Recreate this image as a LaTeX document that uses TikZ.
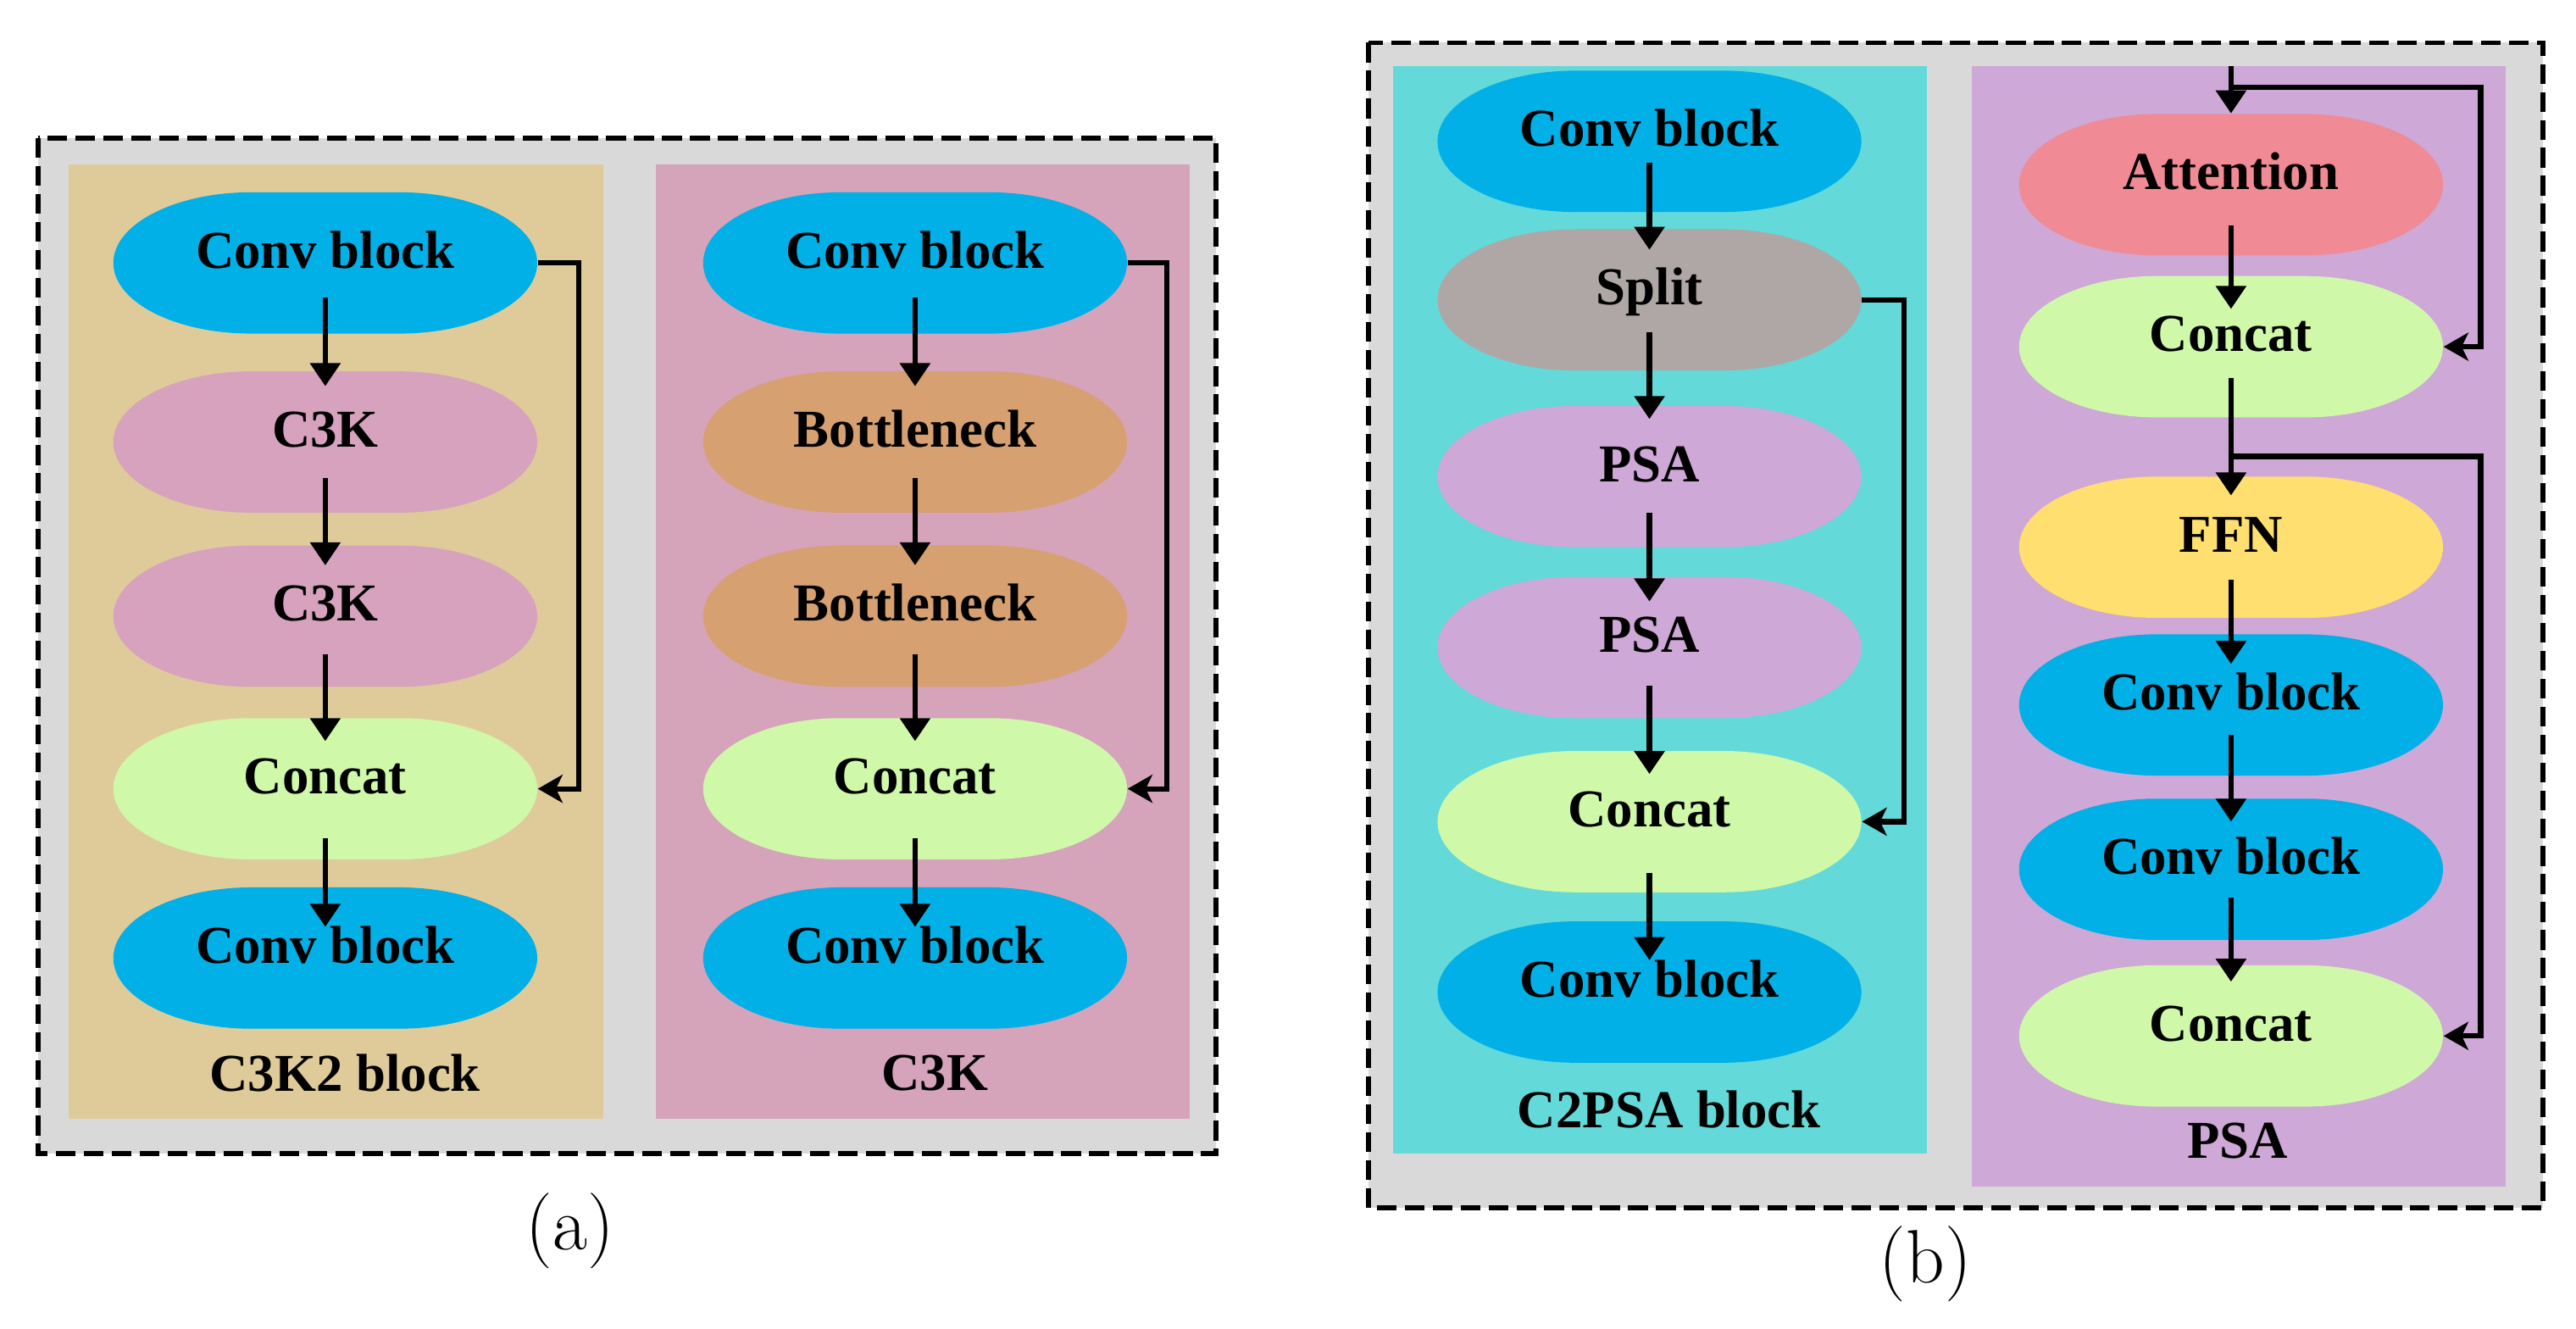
\documentclass[tikz,border=0pt]{standalone}
\usepackage{fontspec}
\newfontfamily\tnr{Liberation Serif}
\usetikzlibrary{arrows.meta,calc}
\definecolor{bggray}{HTML}{D9D9D9}
\definecolor{ctan}{HTML}{DFCB99}
\definecolor{cpinkpanel}{HTML}{D5A3BA}
\definecolor{cblue}{HTML}{00B0E6}
\definecolor{cpink}{HTML}{D6A2BD}
\definecolor{corange}{HTML}{D6A070}
\definecolor{cgreen}{HTML}{CFF9A9}
\definecolor{ccyan}{HTML}{63D9D9}
\definecolor{cgraynode}{HTML}{AFA7A5}
\definecolor{clav}{HTML}{CEA8D6}
\definecolor{cpurple}{HTML}{CEA8D6}
\definecolor{cred}{HTML}{F08A94}
\definecolor{cyellow}{HTML}{FFDF6F}
\begin{document}
\begin{tikzpicture}[x=0.5pt,y=-0.5pt,
  blk/.style={rectangle, minimum width=129pt, minimum height=43pt, inner sep=0pt,
    font=\tnr\bfseries\fontsize{16.2}{19}\selectfont, text height=11pt, text depth=8pt,
    path picture={\fill[#1] ($(path picture bounding box.center)+(-22.5pt,21.5pt)$)
      -- ++(45pt,0pt) arc[start angle=90,end angle=-90,x radius=42pt,y radius=21.5pt]
      -- ++(-45pt,0pt) arc[start angle=270,end angle=90,x radius=42pt,y radius=21.5pt] -- cycle;}},
  lbl/.style={inner sep=0pt, font=\tnr\bfseries\fontsize{16.2}{19}\selectfont},
  captxt/.style={inner sep=0pt, font=\fontsize{23}{27}\selectfont},
  arr/.style={line width=1.6pt, -{Triangle[length=7pt,width=9pt]}},
  skiparr/.style={line width=1.6pt, -{Stealth[length=7.5pt,width=8.5pt,inset=2pt]}},
  border/.style={draw=black, line width=1.5pt, dash pattern=on 6pt off 2.5pt},
]
\useasboundingbox (0,0) rectangle (1568,808.7);
% ---------- (a) ----------
\fill[bggray] (23,84) rectangle (740,702);
\fill[ctan] (42,100) rectangle (367,681);
\fill[cpinkpanel] (399,100) rectangle (724,681);
\node[blk=cblue] (a1) at (198,160) {Conv block};
\node[blk=cpink] (a2) at (198,269) {C3K};
\node[blk=cpink] (a3) at (198,375) {C3K};
\node[blk=cgreen] (a4) at (198,480) {Concat};
\node[blk=cblue] (a5) at (198,583) {Conv block};
\node[lbl] (la) at (210,653) {C3K2 block};
\node[blk=cblue] (b1) at (557,160) {Conv block};
\node[blk=corange] (b2) at (557,269) {Bottleneck};
\node[blk=corange] (b3) at (557,375) {Bottleneck};
\node[blk=cgreen] (b4) at (557,480) {Concat};
\node[blk=cblue] (b5) at (557,583) {Conv block};
\node[lbl] (lb) at (569,653) {C3K};
\draw[arr] ($(a1)+(0,21)$) -- ($(a2)+(0,-34)$);
\draw[arr] ($(a2)+(0,22)$) -- ($(a3)+(0,-31)$);
\draw[arr] ($(a3)+(0,23)$) -- ($(a4)+(0,-29)$);
\draw[arr] ($(a4)+(0,30)$) -- ($(a5)+(0,-19)$);
\draw[arr] ($(b1)+(0,21)$) -- ($(b2)+(0,-34)$);
\draw[arr] ($(b2)+(0,22)$) -- ($(b3)+(0,-31)$);
\draw[arr] ($(b3)+(0,23)$) -- ($(b4)+(0,-29)$);
\draw[arr] ($(b4)+(0,30)$) -- ($(b5)+(0,-19)$);
\draw[skiparr] (a1.east) -- ++(25,0) |- (a4.east);
\draw[skiparr] (b1.east) -- ++(24,0) |- (b4.east);
\draw[border] (23,84) rectangle (740,702);
\node[captxt] (capa) at (347,749) {(a)};
% ---------- (b) ----------
\fill[bggray] (833,26) rectangle (1548,735);
\fill[ccyan] (848,40) rectangle (1173,702);
\fill[cpurple] (1200,40) rectangle (1525,722);
\node[blk=cblue] (c1) at (1004,86) {Conv block};
\node[blk=cgraynode] (c2) at (1004,182.5) {Split};
\node[blk=clav] (c3) at (1004,290) {PSA};
\node[blk=clav] (c4) at (1004,394) {PSA};
\node[blk=cgreen] (c5) at (1004,500) {Concat};
\node[blk=cblue] (c6) at (1004,603.7) {Conv block};
\node[lbl] (lc) at (1016,675) {C2PSA block};
\draw[arr] ($(c1)+(0,13)$) -- ($(c2)+(0,-30.5)$);
\draw[arr] ($(c2)+(0,19.5)$) -- ($(c3)+(0,-35)$);
\draw[arr] ($(c3)+(0,22)$) -- ($(c4)+(0,-28)$);
\draw[arr] ($(c4)+(0,23.4)$) -- ($(c5)+(0,-29)$);
\draw[arr] ($(c5)+(0,31)$) -- ($(c6)+(0,-19.4)$);
\draw[skiparr] (c2.east) -- ++(25.5,0) |- (c5.east);
\node[blk=cred] (d1) at (1358,112.4) {Attention};
\node[blk=cgreen] (d2) at (1358,211) {Concat};
\node[blk=cyellow] (d3) at (1358,333) {FFN};
\node[blk=cblue] (d4) at (1358,429) {Conv block};
\node[blk=cblue] (d5) at (1358,529) {Conv block};
\node[blk=cgreen] (d6) at (1358,630.4) {Concat};
\node[lbl] (ld) at (1362,694) {PSA};
\coordinate (pin) at (1358,40);
\coordinate (j1) at (1358,53);
\coordinate (j2) at (1358,277.7);
\draw[arr] (pin) -- (d1.north);
\draw[skiparr] (j1) -- ++(152,0) |- (d2.east);
\draw[arr] ($(d1)+(0,25)$) -- ($(d2)+(0,-23)$);
\draw[arr] ($(d2)+(0,19)$) -- ($(d3)+(0,-31.5)$);
\draw[skiparr] (j2) -- ++(152,0) |- (d6.east);
\draw[arr] ($(d3)+(0,20)$) -- ($(d4)+(0,-25)$);
\draw[arr] ($(d4)+(0,18)$) -- ($(d5)+(0,-29)$);
\draw[arr] ($(d5)+(0,17)$) -- ($(d6)+(0,-33)$);
\draw[border] (833,26) rectangle (1548,735);
\node[captxt] (capb) at (1172,769) {(b)};
\end{tikzpicture}
\end{document}
